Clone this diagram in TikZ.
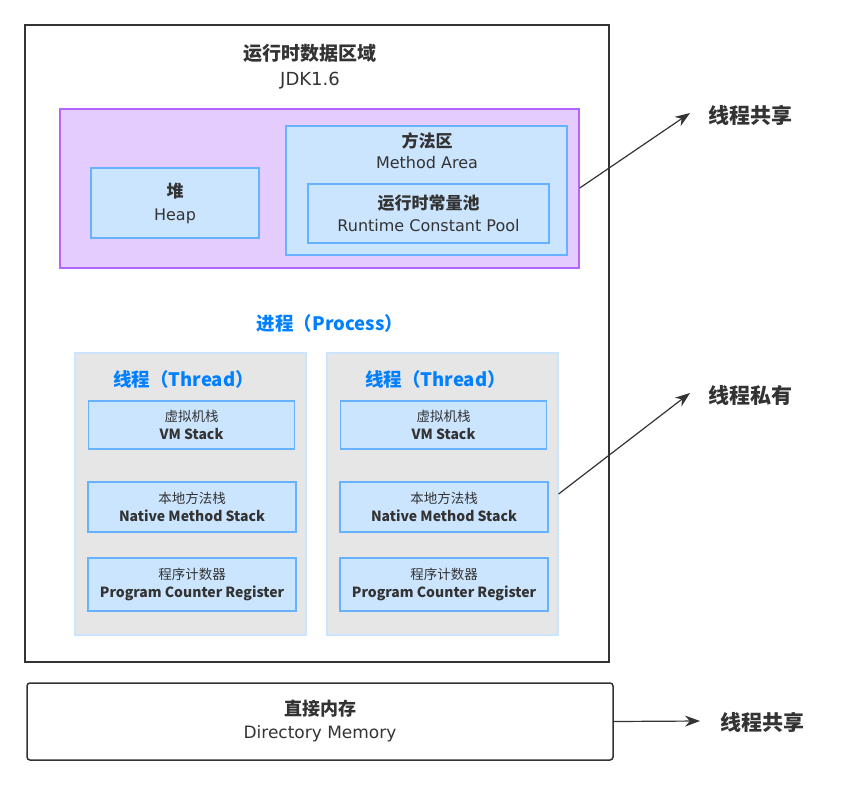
\documentclass[tikz,border=0pt]{standalone}
\usepackage{fontspec}
\setmainfont{Noto Sans CJK SC}
\newfontfamily\latin{DejaVu Sans}
\usetikzlibrary{arrows.meta}
\definecolor{cadre}{HTML}{333333}
\definecolor{violetfond}{HTML}{E5CCFF}
\definecolor{violettrait}{HTML}{B266FF}
\definecolor{bleufond}{HTML}{CCE5FF}
\definecolor{bleutrait}{HTML}{66B2FF}
\definecolor{grisfond}{HTML}{E6E6E6}
\definecolor{bleutitre}{HTML}{007FFF}
\tikzset{
    zone/.style={draw=bleutrait,fill=bleufond,line width=1.5pt,align=center,inner sep=0pt,text=cadre},
    pile/.style={zone,font=\bfseries\fontsize{14}{18}\selectfont},
    fleche/.style={-{Stealth[length=15pt,width=11pt]},cadre,line width=1.2pt},
    etiquette/.style={font=\bfseries\fontsize{21}{24}\selectfont,text=cadre},
    titrebleu/.style={text=bleutitre,font=\bfseries\fontsize{18.5}{22}\selectfont},
  }
\newcommand{\cn}[2]{{\bfseries\fontsize{#1}{#2}\selectfont}}
\begin{document}
\begin{tikzpicture}[x=1pt,y=-1pt]
				  \useasboundingbox (0,0) rectangle (846,785);
				  %zone d'execution
				  \node[draw=cadre,line width=2pt,minimum width=584pt,minimum height=637pt] (runtime) at (317,343.5) {};
				  \node[text=cadre,align=center,font=\fontsize{19}{25}\selectfont] (titre) at (310,67) {\textbf{运行时数据区域}\\{\latin\fontsize{18}{25}\selectfont JDK1.6}};
				  %partage
				  \node[draw=violettrait,fill=violetfond,line width=1.5pt,minimum width=519pt,minimum height=159pt] (partage) at (319.5,188.5) {};
				  \node[zone,minimum width=168pt,minimum height=70pt,font=\fontsize{17}{23}\selectfont] (heap) at (175,203) {\textbf{堆}\\{\latin\fontsize{16}{23}\selectfont Heap}};
				  \node[zone,minimum width=281pt,minimum height=129pt] (methode) at (426.5,190.5) {};
				  \node[align=center,text=cadre,font=\fontsize{17}{21}\selectfont] (methodetxt) at (427,151) {\textbf{方法区}\\{\latin\fontsize{16}{21}\selectfont Method Area}};
				  \node[zone,minimum width=241pt,minimum height=59pt,font=\fontsize{17}{22}\selectfont] (pool) at (428.5,213.5) {\textbf{运行时常量池}\\{\latin\fontsize{16}{22}\selectfont Runtime Constant Pool}};
				  %processus
				  \node[titrebleu] (process) at (330,323) {进程（Process）};
				  \foreach \n/\x in {1/190.5,2/442.5}{
				    \node[draw=bleufond,fill=grisfond,line width=1.2pt,minimum width=231pt,minimum height=282pt] (thread\n) at (\x,494) {};
				    \node[titrebleu] (threadtxt\n) at (\x-7,379) {线程（Thread）};
				    \node[pile,minimum width=206pt,minimum height=48pt] (vm\n) at (\x+1,425) {{\mdseries\fontsize{13.5}{18}\selectfont 虚拟机栈}\\VM Stack};
				    \node[pile,minimum width=208pt,minimum height=50pt] (natif\n) at (\x+1.5,507) {{\mdseries\fontsize{13.5}{18}\selectfont 本地方法栈}\\Native Method Stack};
				    \node[pile,minimum width=208pt,minimum height=53pt] (pc\n) at (\x+1.5,584.5) {{\mdseries\fontsize{13.5}{18}\selectfont 程序计数器}\\Program Counter Register};
				  }
				  %memoire directe
				  \node[draw=cadre,line width=1.5pt,rounded corners=3pt,minimum width=586pt,minimum height=77pt,align=center,text=cadre,font=\fontsize{18}{23}\selectfont] (direct) at (320,721.5) {\textbf{直接内存}\\{\latin\fontsize{17}{23}\selectfont Directory Memory}};
				  %etiquettes
				  \node[etiquette] (partage1) at (750,115) {线程共享};
				  \node[etiquette] (prive) at (750,395) {线程私有};
				  \node[etiquette] (partage2) at (762,722) {线程共享};
				  \coordinate (P1) at (690,113);
				  \coordinate (P2) at (690,393);
				  \coordinate (P3) at (700,721);
				  \draw[fleche] (partage.east) ++(0,-0.5) -- (P1);
				  \draw[fleche] (thread2.east) -- (P2);
				  \draw[fleche] (direct.east) -- (P3);
				  \end{tikzpicture}
\end{document}
